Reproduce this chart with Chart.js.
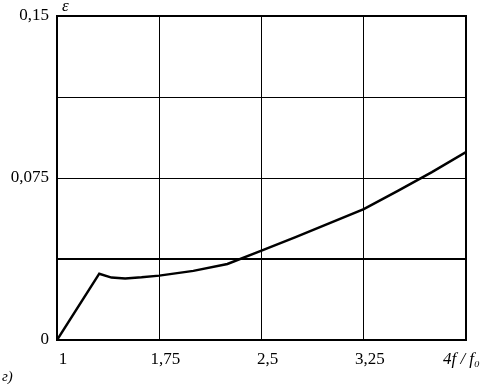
<!DOCTYPE html>
<html>
<head>
<meta charset="utf-8">
<script src="https://cdn.jsdelivr.net/npm/chart.js@4/dist/chart.umd.min.js"></script>
<style>
  html, body { margin: 0; padding: 0; background: #fff; }
  #wrap { width: 481px; height: 384px; }
</style>
</head>
<body>
<div id="wrap"><canvas id="chart" width="481" height="384"></canvas></div>
<script>
// ========================
// DADOS
// ========================

const freqRatio = [1, 1.31, 1.4, 1.5, 1.62, 1.75, 2.0, 2.25, 2.5, 2.75, 3.0, 3.25, 3.5, 3.75, 4.0];
const epsilon = [0, 0.0307, 0.0289, 0.0285, 0.0290, 0.0298, 0.0320, 0.0352, 0.0414, 0.0476, 0.0541, 0.0606, 0.0690, 0.0777, 0.0870];
const limitX = [1, 4];
const limitY = [0.0375, 0.0375];
const xTickLabels = ['1', '1,75', '2,5', '3,25', '4f / f₀'];
const yTickLabels = { 0: '0', 0.075: '0,075', 0.15: '0,15' };

const serif = '"Liberation Serif", "DejaVu Serif", serif';

// moldura + textos extras
const framePlugin = {
  id: 'frame',
  afterDatasetsDraw(chart) {
    const { ctx, chartArea: a } = chart;
    ctx.save();
    ctx.strokeStyle = '#000';
    ctx.lineWidth = 2;
    ctx.strokeRect(a.left, a.top, a.right - a.left, a.bottom - a.top);
    ctx.fillStyle = '#000';
    ctx.textBaseline = 'alphabetic';
    ctx.font = 'italic 17px ' + serif;
    ctx.fillText('ε', a.left + 5, 11);
    // ultimo rotulo do eixo x (alinhado a direita)
    ctx.textAlign = 'right';
    ctx.fillText(xTickLabels[xTickLabels.length - 1], 480, 364);
    ctx.textAlign = 'left';
    ctx.font = 'italic 15px ' + serif;
    ctx.fillText('г)', 2, 381);
    ctx.restore();
  }
};

const ctx = document.getElementById('chart');

new Chart(ctx, {
  type: 'line',
  data: {
    datasets: [
      {
        data: freqRatio.map((x, i) => ({ x, y: epsilon[i] })),
        borderColor: '#000',
        borderWidth: 2.5,
        pointRadius: 0,
        tension: 0
      },
      {
        data: limitX.map((x, i) => ({ x, y: limitY[i] })),
        borderColor: '#000',
        borderWidth: 2,
        pointRadius: 0
      }
    ]
  },
  options: {
    responsive: false,
    animation: false,
    layout: { padding: { top: 16, right: 15, left: 0, bottom: 0 } },
    plugins: {
      legend: { display: false },
      tooltip: { enabled: false }
    },
    scales: {
      x: {
        type: 'linear',
        min: 1,
        max: 4,
        border: { display: false },
        grid: { color: '#000', lineWidth: 1, drawTicks: false },
        ticks: {
          stepSize: 0.75,
          padding: 9,
          maxRotation: 0,
          labelOffset: 6,
          color: '#000',
          font: { family: serif, size: 17 },
          callback: (v, i) => (i < xTickLabels.length - 1 ? xTickLabels[i] : '')
        },
        afterFit: (s) => { s.height = 44; s.paddingLeft = 0; s.paddingRight = 0; }
      },
      y: {
        min: 0,
        max: 0.15,
        border: { display: false },
        grid: { color: '#000', lineWidth: 1, drawTicks: false },
        ticks: {
          stepSize: 0.0375,
          padding: 8,
          color: '#000',
          font: { family: serif, size: 17 },
          callback: (v) => {
            const k = Object.keys(yTickLabels).find(t => Math.abs(t - v) < 1e-6);
            return k !== undefined ? yTickLabels[k] : '';
          }
        },
        afterFit: (s) => { s.width = 57; s.paddingTop = 0; s.paddingBottom = 0; }
      }
    }
  },
  plugins: [framePlugin]
});
</script>
</body>
</html>
